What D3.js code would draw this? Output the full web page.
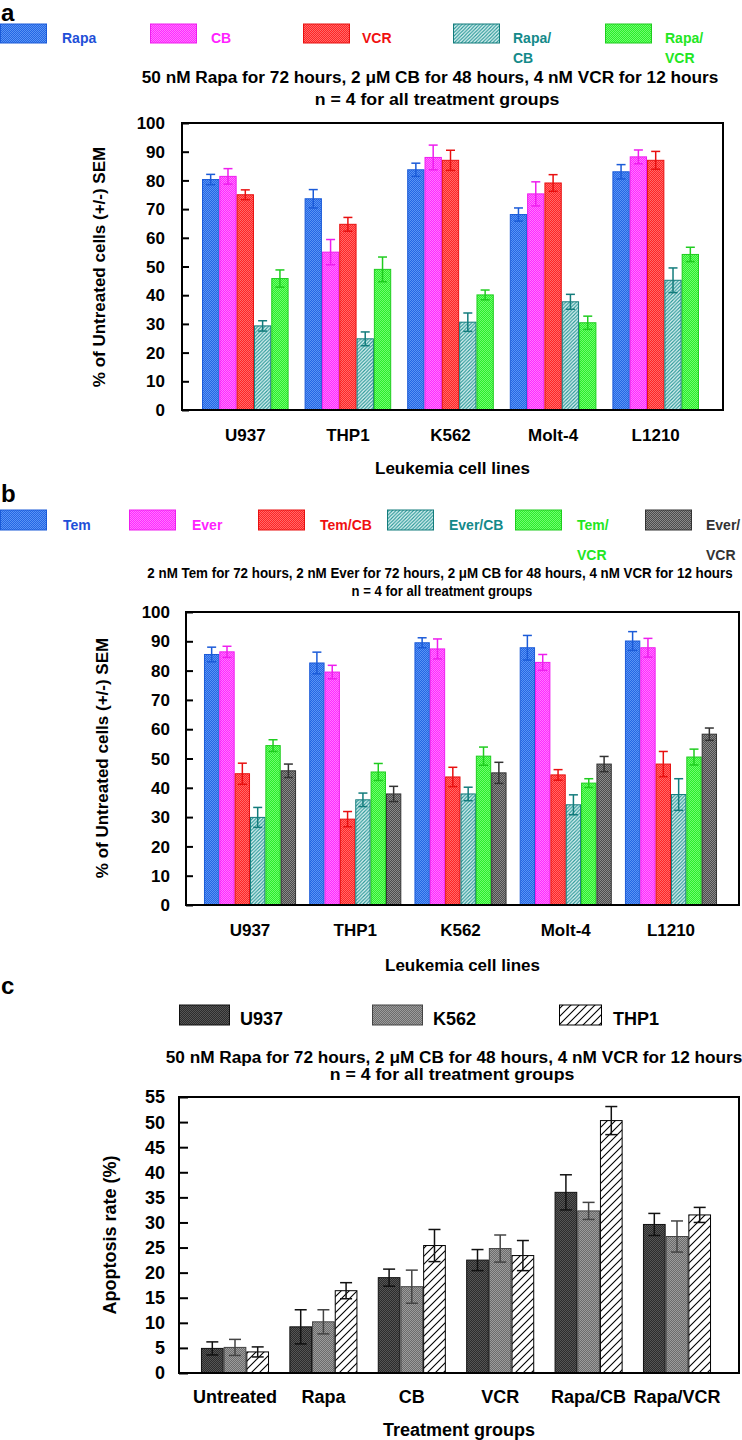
<!DOCTYPE html>
<html><head><meta charset="utf-8">
<script src="https://cdn.jsdelivr.net/npm/d3@7"></script>
<style>
body{margin:0;background:#fff}
svg{display:block}
text{font-family:"Liberation Sans",Arial,Helvetica,sans-serif;font-weight:bold}
</style>
</head><body>
<svg id="chart" width="742" height="1440"></svg>
<script>
// ---------- DATA ----------
// Panel a
const cellLinesA = ["U937","THP1","K562","Molt-4","L1210"];
const seriesA = ["Rapa","CB","VCR","Rapa/CB","Rapa/VCR"];
const aRapa      = [80.3, 73.6, 83.7, 68.1, 83.0];
const aRapaErr   = [1.8, 3.2, 2.3, 2.3, 2.5];
const aCB        = [81.4, 55.0, 88.0, 75.3, 88.2];
const aCBErr     = [2.7, 4.4, 4.3, 4.2, 2.4];
const aVCR       = [75.0, 64.7, 87.0, 79.1, 87.0];
const aVCRErr    = [1.7, 2.4, 3.5, 2.9, 3.1];
const aRapaCB    = [29.3, 24.8, 30.6, 37.7, 45.2];
const aRapaCBErr = [1.8, 2.4, 3.2, 2.6, 4.3];
const aRapaVCR   = [45.8, 49.0, 40.1, 30.4, 54.2];
const aRapaVCRErr= [3.0, 4.3, 1.7, 2.3, 2.5];
const ticksA = [0,10,20,30,40,50,60,70,80,90,100];

// Panel b
const cellLinesB = ["U937","THP1","K562","Molt-4","L1210"];
const seriesB = ["Tem","Ever","Tem/CB","Ever/CB","Tem/VCR","Ever/VCR"];
const bTem       = [85.5, 82.6, 89.5, 87.8, 90.1];
const bTemErr    = [2.5, 3.7, 1.7, 4.2, 3.2];
const bEver      = [86.4, 79.5, 87.4, 82.8, 87.8];
const bEverErr   = [1.9, 2.3, 3.4, 2.7, 3.2];
const bTemCB     = [44.8, 29.3, 43.7, 44.4, 48.1];
const bTemCBErr  = [3.6, 2.6, 3.3, 1.8, 4.3];
const bEverCB    = [29.9, 35.9, 37.9, 34.2, 37.7];
const bEverCBErr = [3.4, 2.3, 2.3, 3.4, 5.4];
const bTemVCR    = [54.4, 45.4, 50.8, 41.6, 50.5];
const bTemVCRErr = [2.0, 2.9, 3.1, 1.5, 2.7];
const bEverVCR   = [45.8, 37.9, 45.1, 48.1, 58.3];
const bEverVCRErr= [2.3, 2.6, 3.6, 2.6, 2.1];
const ticksB = [0,10,20,30,40,50,60,70,80,90,100];

// Panel c
const groupsC = ["Untreated","Rapa","CB","VCR","Rapa/CB","Rapa/VCR"];
const seriesC = ["U937","K562","THP1"];
const cU937    = [4.9, 9.2, 19.0, 22.5, 36.0, 29.6];
const cU937Err = [1.3, 3.4, 1.7, 2.1, 3.5, 2.2];
const cK562    = [5.1, 10.2, 17.2, 24.8, 32.3, 27.2];
const cK562Err = [1.6, 2.4, 3.3, 2.7, 1.7, 3.1];
const cTHP1    = [4.2, 16.4, 25.4, 23.4, 50.3, 31.5];
const cTHP1Err = [1.0, 1.6, 3.2, 3.0, 2.8, 1.5];
const ticksC = [0,5,10,15,20,25,30,35,40,45,50,55];

// ---------- STYLES ----------
const styles = {
  blue:   {kind:"check", c1:"#2466e4", c2:"#5a94f4", stroke:"#1b5bd8", text:"#1e4fd8"},
  mag:    {kind:"check", c1:"#ff28ff", c2:"#ff78ff", stroke:"#ee1eee", text:"#ff22ff"},
  red:    {kind:"check", c1:"#ff2424", c2:"#ff6a6a", stroke:"#e81010", text:"#f01010"},
  teal:   {kind:"hatch", bg:"#e4f6f6", line:"#2a9898", sp:3.5, lw:1.2, stroke:"#137c7c", text:"#148a8a"},
  green:  {kind:"check", c1:"#2aee2a", c2:"#70fb70", stroke:"#1fcc1f", text:"#22e622"},
  gray:   {kind:"check", c1:"#4c4c4c", c2:"#8a8a8a", stroke:"#333333", text:"#333333"},
  dk:     {kind:"check", c1:"#2c2c2c", c2:"#555555", stroke:"#111111", text:"#000"},
  md:     {kind:"check", c1:"#6c6c6c", c2:"#9c9c9c", stroke:"#444444", text:"#000"},
  bw:     {kind:"hatch", bg:"#ffffff", line:"#000000", sp:8, lw:1.1, stroke:"#000000", text:"#000"}
};
const styleA = ["blue","mag","red","teal","green"];
const styleB = ["blue","mag","red","teal","green","gray"];
const styleC = ["dk","md","bw"];

const svg = d3.select("#chart");
const defs = svg.append("defs");
Object.entries(styles).forEach(([k,s])=>{
  if(s.kind==="check"){
    const p = defs.append("pattern").attr("id","p-"+k).attr("patternUnits","userSpaceOnUse").attr("width",2).attr("height",2);
    p.append("rect").attr("width",2).attr("height",2).attr("fill",s.c1);
    p.append("rect").attr("x",0).attr("y",0).attr("width",1).attr("height",1).attr("fill",s.c2);
    p.append("rect").attr("x",1).attr("y",1).attr("width",1).attr("height",1).attr("fill",s.c2);
  } else {
    const sp = s.sp;
    const p = defs.append("pattern").attr("id","p-"+k).attr("patternUnits","userSpaceOnUse").attr("width",sp).attr("height",sp);
    p.append("rect").attr("width",sp).attr("height",sp).attr("fill",s.bg);
    p.append("path").attr("d",`M${-sp/2},${sp/2} L${sp/2},${-sp/2} M0,${sp} L${sp},0 M${sp/2},${sp*1.5} L${sp*1.5},${sp/2}`)
      .attr("stroke",s.line).attr("stroke-width",s.lw);
  }
});

function txt(g, x, y, s, size, o={}){
  const t = g.append("text").text(s)
    .attr("font-size",size).attr("fill",o.fill||"#000")
    .attr("text-anchor",o.anchor||"start");
  if(o.len){
    t.attr("x",0).attr("y",0);
    const nat = t.node().getComputedTextLength();
    const sx = nat>0 ? o.len/nat : 1;
    t.attr("transform",`translate(${x},${y}) scale(${sx},1)`);
  } else {
    t.attr("x",x).attr("y",y);
    if(o.rot){ t.attr("transform",`rotate(-90,${x},${y})`); }
  }
  return t;
}

function panel(cfg){
  const g = svg.append("g");
  const y = d3.scaleLinear().domain(cfg.yDomain).range([cfg.frame.b, cfg.frame.t]);
  const x0 = d3.scaleBand().domain(cfg.cats).range(cfg.band).paddingInner(cfg.pi).paddingOuter(cfg.po);
  const x1 = d3.scaleBand().domain(cfg.series).range([0, x0.bandwidth()]);
  cfg.series.forEach((s,si)=>{
    const st = styles[cfg.styles[si]];
    const vals = cfg.values[si], errs = cfg.errors[si];
    const sg = g.append("g");
    sg.selectAll("rect").data(cfg.cats).join("rect")
      .attr("x",(c)=>x0(c)+x1(s)+0.5)
      .attr("y",(c,i)=>y(vals[i]))
      .attr("width",x1.bandwidth()-1)
      .attr("height",(c,i)=>y(0)-y(vals[i]))
      .attr("fill",`url(#p-${cfg.styles[si]})`)
      .attr("stroke",st.stroke).attr("stroke-width",1);
    const eg = g.append("g").attr("stroke",cfg.errColor?cfg.errColor[si]:st.stroke).attr("stroke-width",1.5).attr("fill","none");
    cfg.cats.forEach((c,i)=>{
      const cx = x0(c)+x1(s)+x1.bandwidth()/2;
      const hi = y(vals[i]+errs[i]), lo = y(vals[i]-errs[i]);
      eg.append("line").attr("x1",cx).attr("x2",cx).attr("y1",hi).attr("y2",lo);
      eg.append("line").attr("x1",cx-cfg.cap).attr("x2",cx+cfg.cap).attr("y1",hi).attr("y2",hi);
      eg.append("line").attr("x1",cx-cfg.cap).attr("x2",cx+cfg.cap).attr("y1",lo).attr("y2",lo);
    });
  });
  g.append("rect").attr("x",cfg.frame.l).attr("y",cfg.frame.t)
    .attr("width",cfg.frame.r-cfg.frame.l).attr("height",cfg.frame.b-cfg.frame.t)
    .attr("fill","none").attr("stroke","#000").attr("stroke-width",2);
  const ax = d3.axisRight(y).tickValues(cfg.ticks).tickSize(cfg.tickLen).tickFormat("");
  const axg = g.append("g").attr("transform",`translate(${cfg.frame.l},0)`).call(ax);
  axg.select(".domain").remove();
  axg.selectAll(".tick line").attr("stroke","#000").attr("stroke-width",2);
  cfg.ticks.forEach(t=>txt(g, cfg.tickX, y(t)+cfg.tickSize*0.36, String(t), cfg.tickSize, {anchor:"end"}));
  cfg.cats.forEach(c=>txt(g, x0(c)+x0.bandwidth()/2, cfg.catY, c, cfg.catSize, {anchor:"middle"}));
  txt(g, (cfg.frame.l+cfg.frame.r)/2, cfg.xTitleY, cfg.xTitle, cfg.catSize, {anchor:"middle"});
  txt(g, cfg.yTitleX, cfg.yTitleY, cfg.yTitle, cfg.yTitleSize, {anchor:"middle", rot:true});
}

// ---------- PANEL A ----------
txt(svg, 1, 21, "a", 24);
const legA = [[0,62],[150,211],[303,362],[453,513],[605,665]];
seriesA.forEach((s,i)=>{
  const st = styles[styleA[i]];
  svg.append("rect").attr("x",legA[i][0]+0.5).attr("y",24).attr("width",46).attr("height",19)
    .attr("fill",`url(#p-${styleA[i]})`).attr("stroke",st.stroke).attr("stroke-width",1);
  const parts = s.includes("/") ? [s.split("/")[0]+"/", s.split("/")[1]] : [s];
  parts.forEach((p,j)=>txt(svg, legA[i][1], 43+j*20, p, 14, {fill:st.text}));
});
txt(svg, 430, 83, "50 nM Rapa for 72 hours, 2 \u03bcM CB for 48 hours, 4 nM VCR for 12 hours", 16, {anchor:"middle", len:577});
txt(svg, 437, 105, "n = 4 for all treatment groups", 16, {anchor:"middle", len:245});
panel({
  frame:{l:182,r:723,t:123,b:410}, yDomain:[0,100], ticks:ticksA,
  cats:cellLinesA, series:seriesA, styles:styleA,
  values:[aRapa,aCB,aVCR,aRapaCB,aRapaVCR], errors:[aRapaErr,aCBErr,aVCRErr,aRapaCBErr,aRapaVCRErr],
  band:[194,707], pi:0.156, po:0.078, cap:4.5, tickLen:7,
  tickX:165, tickSize:17, catY:441, catSize:17, xTitle:"Leukemia cell lines", xTitleY:474,
  yTitle:"% of Untreated cells (+/-) SEM", yTitleX:105, yTitleY:267, yTitleSize:17
});

// ---------- PANEL B ----------
txt(svg, 1, 502, "b", 24);
const legB = [[0,63],[129,192],[258,320],[387,449],[515,577],[645,706]];
seriesB.forEach((s,i)=>{
  const st = styles[styleB[i]];
  svg.append("rect").attr("x",legB[i][0]+0.5).attr("y",510).attr("width",46).attr("height",20)
    .attr("fill",`url(#p-${styleB[i]})`).attr("stroke",st.stroke).attr("stroke-width",1);
  const parts = s.endsWith("VCR") ? [s.split("/")[0]+"/", s.split("/")[1]] : [s];
  parts.forEach((p,j)=>txt(svg, legB[i][1], 530+j*30, p, 14, {fill:st.text}));
});
txt(svg, 440, 578, "2 nM Tem for 72 hours, 2 nM Ever for 72 hours, 2 \u03bcM CB for 48 hours, 4 nM  VCR for 12 hours", 14, {anchor:"middle", len:586});
txt(svg, 442, 596, "n = 4 for all treatment groups", 14, {anchor:"middle", len:181});
panel({
  frame:{l:186,r:739,t:612,b:905}, yDomain:[0,100], ticks:ticksB,
  cats:cellLinesB, series:seriesB, styles:styleB,
  values:[bTem,bEver,bTemCB,bEverCB,bTemVCR,bEverVCR], errors:[bTemErr,bEverErr,bTemCBErr,bEverCBErr,bTemVCRErr,bEverVCRErr],
  band:[197.4,723.6], pi:0.125, po:0.0625, cap:4.5, tickLen:7,
  tickX:170, tickSize:17, catY:936, catSize:17, xTitle:"Leukemia cell lines", xTitleY:971,
  yTitle:"% of Untreated cells (+/-) SEM", yTitleX:108, yTitleY:758, yTitleSize:17
});

// ---------- PANEL C ----------
txt(svg, 1, 994, "c", 24);
const legC = [[179,50,240],[372,50,433],[559,42,613]];
seriesC.forEach((s,i)=>{
  const st = styles[styleC[i]];
  svg.append("rect").attr("x",legC[i][0]+0.5).attr("y",1005).attr("width",legC[i][1]).attr("height",20)
    .attr("fill",`url(#p-${styleC[i]})`).attr("stroke",st.stroke).attr("stroke-width",1);
  txt(svg, legC[i][2], 1025, s, 18, {fill:"#000"});
});
txt(svg, 454, 1063, "50 nM Rapa for 72 hours, 2 \u03bcM CB for 48 hours, 4 nM  VCR for 12 hours", 16, {anchor:"middle", len:577});
txt(svg, 452, 1080, "n = 4 for all treatment groups", 16, {anchor:"middle", len:245});
panel({
  frame:{l:179,r:739,t:1097,b:1373}, yDomain:[0,55], ticks:ticksC,
  cats:groupsC, series:seriesC, styles:styleC,
  values:[cU937,cK562,cTHP1], errors:[cU937Err,cK562Err,cTHP1Err],
  errColor:["#111","#444","#111"],
  band:[190.8,721.2], pi:0.23, po:0.115, cap:6, tickLen:9,
  tickX:165, tickSize:18, catY:1403, catSize:18, xTitle:"Treatment groups", xTitleY:1436,
  yTitle:"Apoptosis rate (%)", yTitleX:116, yTitleY:1235, yTitleSize:18
});
</script>
</body></html>
